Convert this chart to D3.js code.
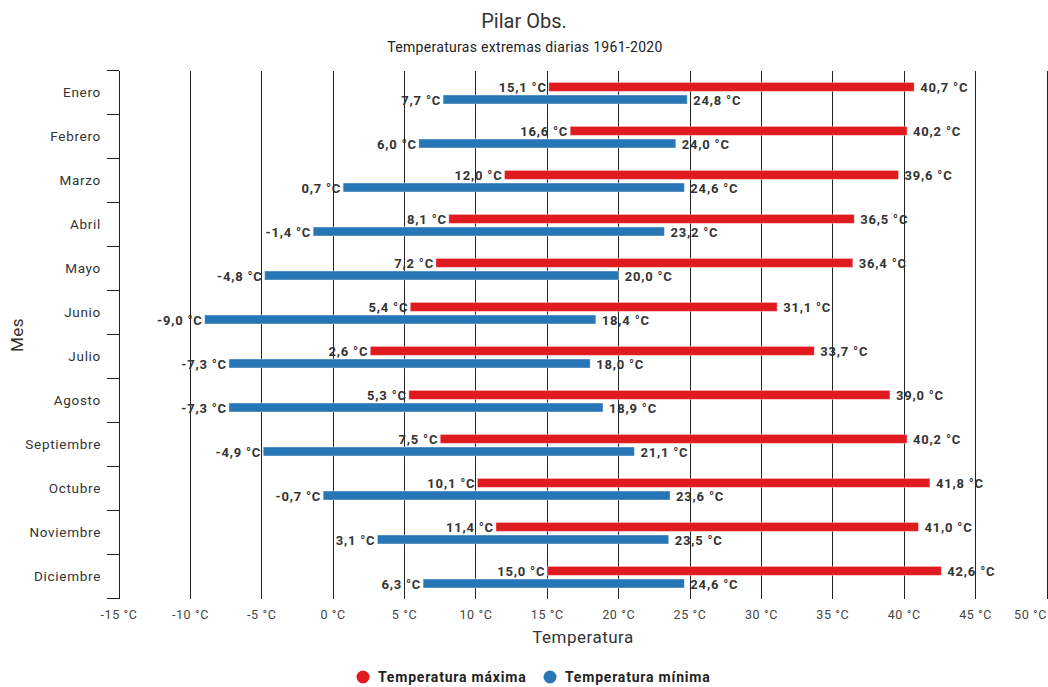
<!DOCTYPE html>
<html><head><meta charset="utf-8">
<script src="https://cdn.jsdelivr.net/npm/d3@7/dist/d3.min.js"></script>
<style>
body{margin:0;background:#fff;}
text{font-family:Roboto, "Open Sans", sans-serif;}
</style></head>
<body><svg id="c" width="1048" height="687"></svg>
<script>
const months = ["Enero","Febrero","Marzo","Abril","Mayo","Junio","Julio","Agosto","Septiembre","Octubre","Noviembre","Diciembre"];
const maxLow  = [15.1,16.6,12.0,8.1,7.2,5.4,2.6,5.3,7.5,10.1,11.4,15.0];
const maxHigh = [40.7,40.2,39.6,36.5,36.4,31.1,33.7,39.0,40.2,41.8,41.0,42.6];
const minLow  = [7.7,6.0,0.7,-1.4,-4.8,-9.0,-7.3,-7.3,-4.9,-0.7,3.1,6.3];
const minHigh = [24.8,24.0,24.6,23.2,20.0,18.4,18.0,18.9,21.1,23.6,23.5,24.6];
const xTicks = [-15,-10,-5,0,5,10,15,20,25,30,35,40,45,50];
const titleText = "Pilar Obs.";
const subtitleText = "Temperaturas extremas diarias 1961-2020";
const xTitle = "Temperatura";
const yTitle = "Mes";
const seriesNames = ["Temperatura máxima","Temperatura mínima"];
const colors = ["#e01b1f","#2876b6"];

const svg = d3.select("#c");
const pTop = 70.6, pBottom = 598.6, pLeft = 119, pRight = 1047;
const x = d3.scaleLinear().domain([-15,50]).range([pLeft,pRight]);
const y = d3.scaleBand().domain(months).range([pTop,pBottom]).padding(0);
const fmt = v => d3.format(".1f")(v).replace(".",",").replace("−","-") + " °C";

// titles
svg.append("text").attr("x",524).attr("y",28).attr("text-anchor","middle")
  .attr("font-size",20).attr("fill","#333").text(titleText);
svg.append("text").attr("x",525).attr("y",52).attr("text-anchor","middle")
  .attr("font-size",14).attr("letter-spacing",0.3).attr("fill","#222").text(subtitleText);

// gridlines
svg.append("g").selectAll("line").data(xTicks.slice(1)).join("line")
  .attr("x1",d=>x(d)).attr("x2",d=>x(d)).attr("y1",pTop).attr("y2",pBottom)
  .attr("stroke","#222").attr("stroke-width",1).attr("shape-rendering","crispEdges");

// x tick labels
svg.append("g").selectAll("text").data(xTicks).join("text")
  .attr("x",(d,i)=> i===xTicks.length-1 ? pRight : x(d))
  .attr("y",619)
  .attr("text-anchor",(d,i)=> i===xTicks.length-1 ? "end" : "middle")
  .attr("font-size",12.5).attr("letter-spacing",0.6).attr("fill","#444")
  .text(d=>d+" °C");

// y axis
const yg = svg.append("g").attr("transform",`translate(${pLeft},0)`);
yg.append("line").attr("x1",0).attr("x2",0).attr("y1",pTop).attr("y2",pBottom)
  .attr("stroke","#222").attr("shape-rendering","crispEdges");
const bounds = months.map(m=>y(m)).concat([pBottom]);
yg.selectAll("line.tk").data(bounds).join("line").attr("class","tk")
  .attr("x1",-12).attr("x2",0).attr("y1",d=>d).attr("y2",d=>d)
  .attr("stroke","#222").attr("shape-rendering","crispEdges");
yg.selectAll("text.cat").data(months).join("text").attr("class","cat")
  .attr("x",-18).attr("y",d=>y(d)+y.bandwidth()/2)
  .attr("dy","0.35em").attr("text-anchor","end")
  .attr("font-size",13.5).attr("letter-spacing",0.7).attr("fill","#333").text(d=>d);

// axis titles
svg.append("text").attr("x",583).attr("y",643).attr("text-anchor","middle")
  .attr("font-size",17).attr("letter-spacing",0.5).attr("fill","#333").text(xTitle);
svg.append("text").attr("transform","translate(23,335) rotate(-90)").attr("text-anchor","middle")
  .attr("font-size",17).attr("letter-spacing",0.5).attr("fill","#333").text(yTitle);

// bars
const bh = 9;
const series = [
  {lo:maxLow, hi:maxHigh, off:11.8, color:colors[0]},
  {lo:minLow, hi:minHigh, off:24.4, color:colors[1]}
];
series.forEach(s=>{
  const g = svg.append("g");
  g.selectAll("rect").data(months).join("rect")
    .attr("x",(d,i)=>x(s.lo[i])).attr("width",(d,i)=>x(s.hi[i])-x(s.lo[i]))
    .attr("y",d=>y(d)+s.off).attr("height",bh)
    .attr("fill",s.color).attr("stroke","#fff").attr("stroke-opacity",0.4).attr("stroke-width",1);
  g.selectAll("text.lo").data(months).join("text").attr("class","lo")
    .attr("x",(d,i)=>x(s.lo[i])-2).attr("y",d=>y(d)+s.off+bh/2+1)
    .attr("dy","0.35em").attr("text-anchor","end")
    .attr("font-size",13).attr("letter-spacing",0.8).attr("font-weight","bold").attr("fill","#333")
    .text((d,i)=>fmt(s.lo[i]));
  g.selectAll("text.hi").data(months).join("text").attr("class","hi")
    .attr("x",(d,i)=>x(s.hi[i])+6).attr("y",d=>y(d)+s.off+bh/2+1)
    .attr("dy","0.35em").attr("text-anchor","start")
    .attr("font-size",13).attr("letter-spacing",0.8).attr("font-weight","bold").attr("fill","#333")
    .text((d,i)=>fmt(s.hi[i]));
});

// legend
const leg = svg.append("g");
const legX = [363,550];
seriesNames.forEach((n,i)=>{
  leg.append("circle").attr("cx",legX[i]).attr("cy",677).attr("r",6.5).attr("fill",colors[i]);
  leg.append("text").attr("x",legX[i]+15).attr("y",677).attr("dy","0.35em")
    .attr("font-size",14).attr("letter-spacing",0.8).attr("font-weight","bold").attr("fill","#222").text(n);
});
</script></body></html>
